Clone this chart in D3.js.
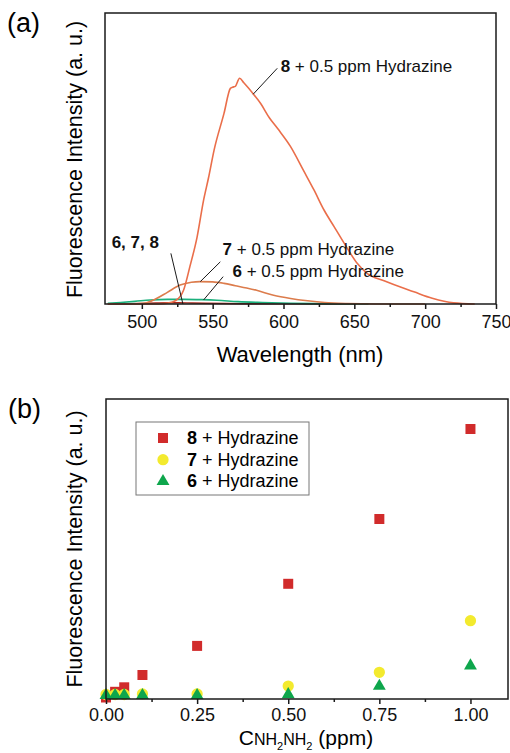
<!DOCTYPE html>
<html>
<head>
<meta charset="utf-8">
<script src="https://cdn.jsdelivr.net/npm/d3@7"></script>
<style>
  body { margin: 0; background: #fff; }
  svg { display: block; font-family: "Liberation Sans", Arial, sans-serif; }
</style>
</head>
<body>
<div id="visualization"></div>
<script>
/*DATA*/
// panel (a): emission spectra, wavelength (nm) and intensity (a.u.)
const wl8   = [476, 505, 512, 518, 524, 529.5, 534, 539, 543.6, 547, 551, 558, 562.5, 564, 566, 569, 572, 578, 584, 590, 596, 605, 614, 621.5, 628.6, 635.7, 642.8, 652, 659, 671, 685, 692, 705, 720, 735];
const int8  = [0, 0, 0.5, 3, 12, 48, 130, 230, 357, 432, 529, 655, 741, 745, 748, 776, 760, 726, 688, 640, 602, 541, 460, 392, 323, 266, 209, 140, 105, 80, 54, 42, 20, 4, 0];
const wl7   = [476, 495, 501, 510, 518, 527, 535, 541, 550, 558, 566, 574, 581, 593, 605, 617, 629, 645, 665, 700];
const int7  = [0, 0.5, 2, 18, 40, 65, 75, 77, 76, 71, 63, 55, 47, 30, 19, 11, 5, 1.5, 0, 0];
const wl6   = [476, 485, 495, 506, 518, 530, 542, 553, 568, 585, 605, 630, 660];
const int6  = [2, 5, 9, 14, 16, 16, 15, 13, 8, 5, 2.5, 1, 0];
const wlBlank  = [476, 490, 500, 510, 518, 526, 535, 545, 560, 580, 610, 650];
const intBlank = [0.5, 1, 2, 3.5, 4.5, 4.5, 3.5, 2.5, 1.5, 0.8, 0.3, 0];
const wlTicks  = [500, 550, 600, 650, 700, 750];
const wlMinor  = [525, 575, 625, 675, 725];

// panel (b): intensity vs hydrazine concentration (ppm)
const conc   = [0, 0.025, 0.05, 0.1, 0.25, 0.5, 0.75, 1.0];
const val8   = [0.5, 2.4, 3.9, 8.0, 17.7, 38.4, 60.0, 90.0];
const val7   = [1.5, 1.5, 1.5, 1.7, 1.7, 4.3, 8.9, 26.1];
const val6   = [1.2, 1.2, 1.2, 1.2, 1.2, 1.5, 4.3, 11.1];
const concTicks = [0, 0.25, 0.5, 0.75, 1.0];
const concMinor = [0.125, 0.375, 0.625, 0.875];

/*CONFIGURATION*/
const config = { width: 510, height: 753 };
const panelA = { left: 105, right: 496, top: 13, bottom: 304 };
const panelB = { left: 106, right: 508, top: 399, bottom: 699 };

const svg = d3.select("#visualization")
    .append("svg")
    .attr("width", config.width)
    .attr("height", config.height);

/*PANEL A*/
const xA = d3.scaleLinear().domain([474, 750]).range([panelA.left, panelA.right]);
const yA = d3.scaleLinear().domain([0, 1000]).range([panelA.bottom, panelA.top]);

const spectra = [
    { wl: wlBlank, v: intBlank, color: "#a8281c", w: 1.4 },
    { wl: wl6, v: int6, color: "#1bb07c", w: 1.6 },
    { wl: wl7, v: int7, color: "#dc7c4c", w: 1.6 },
    { wl: wl8, v: int8, color: "#ea6e4a", w: 1.6 }
];

const line = d3.line()
    .x(d => xA(d[0]))
    .y(d => yA(d[1]))
    .curve(d3.curveMonotoneX);

spectra.forEach(s => {
    svg.append("path")
        .datum(s.wl.map((w, i) => [w, s.v[i]]))
        .attr("d", line)
        .attr("fill", "none")
        .attr("stroke", s.color)
        .attr("stroke-width", s.w);
});

// frame
svg.append("rect")
    .attr("x", panelA.left).attr("y", panelA.top)
    .attr("width", panelA.right - panelA.left)
    .attr("height", panelA.bottom - panelA.top)
    .attr("fill", "none").attr("stroke", "#1a1a1a").attr("stroke-width", 1.5);

// x axis with minor ticks
svg.append("g")
    .attr("transform", `translate(0,${panelA.bottom})`)
    .call(d3.axisBottom(xA).tickValues(wlTicks).tickSize(5).tickPadding(6).tickFormat(d3.format("d")));
svg.append("g")
    .attr("transform", `translate(0,${panelA.bottom})`)
    .call(d3.axisBottom(xA).tickValues(wlMinor).tickSize(3).tickFormat(""));

// annotations (a)
const notesA = [
    { num: "8", rest: " + 0.5 ppm Hydrazine", tx: 598, ty: 797, from: [595.6, 810], to: [578.6, 721] },
    { num: "7", rest: " + 0.5 ppm Hydrazine", tx: 557, ty: 168, from: [555.4, 145], to: [541.3, 77] },
    { num: "6", rest: " + 0.5 ppm Hydrazine", tx: 564, ty: 94, from: [557.4, 94], to: [543.6, 14] },
    { num: "6, 7, 8", rest: "", tx: 478.7, ty: 192, from: [520.5, 174], to: [529, 0] }
];
notesA.forEach(n => {
    svg.append("line")
        .attr("x1", xA(n.from[0])).attr("y1", yA(n.from[1]))
        .attr("x2", xA(n.to[0])).attr("y2", yA(n.to[1]))
        .attr("stroke", "#1a1a1a").attr("stroke-width", 1);
    const t = svg.append("text")
        .attr("x", xA(n.tx)).attr("y", yA(n.ty))
        .style("font-size", "17px").attr("fill", "#111");
    t.append("tspan").style("font-weight", "bold").text(n.num);
    t.append("tspan").text(n.rest);
});

svg.append("text")
    .attr("x", 300).attr("y", 362)
    .attr("text-anchor", "middle")
    .style("font-size", "22px")
    .text("Wavelength (nm)");

svg.append("text")
    .attr("transform", `translate(82,${(panelA.top + panelA.bottom) / 2 + 1}) rotate(-90)`)
    .attr("text-anchor", "middle")
    .style("font-size", "21.5px")
    .text("Fluorescence Intensity (a. u.)");

svg.append("text")
    .attr("x", 7).attr("y", 32)
    .style("font-size", "27px")
    .text("(a)");

/*PANEL B*/
const xB = d3.scaleLinear().domain([0, 1.103]).range([panelB.left, panelB.right]);
const yB = d3.scaleLinear().domain([0, 100]).range([panelB.bottom, panelB.top]);

const series = [
    { v: val8, color: "#d12b2b", type: d3.symbolSquare, size: 100, label: "8" },
    { v: val7, color: "#f3ea2e", type: d3.symbolCircle, size: 100, label: "7" },
    { v: val6, color: "#0ea64c", type: d3.symbolTriangle, size: 72, label: "6" }
];

series.forEach(s => {
    svg.append("g").selectAll("path")
        .data(conc.map((c, i) => [c, s.v[i]]))
        .join("path")
        .attr("transform", d => `translate(${xB(d[0])},${yB(d[1])})`)
        .attr("d", d3.symbol().type(s.type).size(s.size))
        .attr("fill", s.color);
});

svg.append("rect")
    .attr("x", panelB.left).attr("y", panelB.top)
    .attr("width", panelB.right - panelB.left)
    .attr("height", panelB.bottom - panelB.top)
    .attr("fill", "none").attr("stroke", "#1a1a1a").attr("stroke-width", 1.5);

svg.append("g")
    .attr("transform", `translate(0,${panelB.bottom})`)
    .call(d3.axisBottom(xB).tickValues(concTicks).tickSize(5).tickPadding(4).tickFormat(d3.format(".2f")));
svg.append("g")
    .attr("transform", `translate(0,${panelB.bottom})`)
    .call(d3.axisBottom(xB).tickValues(concMinor).tickSize(3).tickFormat(""));

// legend
const legend = svg.append("g").attr("transform", "translate(136,422)");
legend.append("rect")
    .attr("width", 173).attr("height", 73)
    .attr("fill", "#fff").attr("stroke", "#777").attr("stroke-width", 1);
series.forEach((s, i) => {
    legend.append("path")
        .attr("transform", `translate(27,${16 + i * 21.7})`)
        .attr("d", d3.symbol().type(s.type).size(s.size))
        .attr("fill", s.color);
    const t = legend.append("text")
        .attr("x", 51).attr("y", 22 + i * 21.7)
        .style("font-size", "18px");
    t.append("tspan").style("font-weight", "bold").text(s.label);
    t.append("tspan").text(" + Hydrazine");
});

// x label with subscripts
const xl = svg.append("text")
    .attr("x", 306).attr("y", 745)
    .attr("text-anchor", "middle")
    .style("font-size", "21px");
xl.append("tspan").text("C");
xl.append("tspan").style("font-size", "16px").text("NH");
xl.append("tspan").style("font-size", "11px").attr("dy", 5).text("2");
xl.append("tspan").style("font-size", "16px").attr("dy", -5).text("NH");
xl.append("tspan").style("font-size", "11px").attr("dy", 5).text("2");
xl.append("tspan").attr("dy", -5).text(" (ppm)");

svg.append("text")
    .attr("transform", `translate(82,${(panelB.top + panelB.bottom) / 2}) rotate(-90)`)
    .attr("text-anchor", "middle")
    .style("font-size", "21.5px")
    .text("Fluorescence Intensity (a. u.)");

svg.append("text")
    .attr("x", 8).attr("y", 418)
    .style("font-size", "27px")
    .text("(b)");

// shared axis styling
svg.selectAll(".domain").remove();
svg.selectAll(".tick line").attr("stroke", "#1a1a1a").attr("stroke-width", 1.5);
svg.selectAll(".tick text")
    .style("font-size", "18px")
    .style("font-family", "'Liberation Sans', Arial, sans-serif")
    .attr("fill", "#111");
</script>
</body>
</html>
